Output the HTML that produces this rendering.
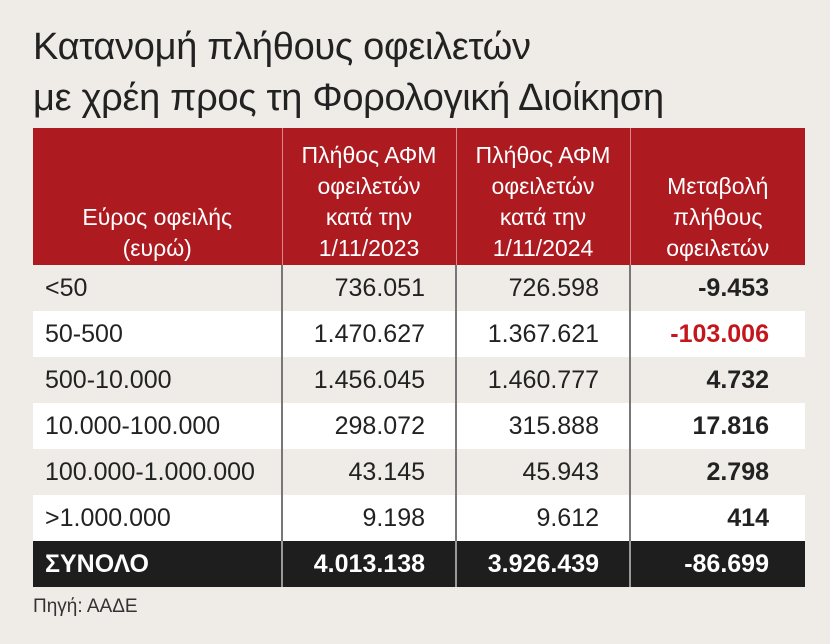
<!DOCTYPE html>
<html><head><meta charset="utf-8"><style>
body{margin:0;width:830px;height:644px;background:#efece7;font-family:"Liberation Sans","DejaVu Sans",sans-serif;color:#222;position:relative;overflow:hidden}
.t{position:absolute;left:33px;font-size:38px;color:#222;white-space:nowrap;letter-spacing:-0.3px}
table{position:absolute;left:33px;top:128px;border-collapse:collapse;width:772px;table-layout:fixed}
th{background:#ad1a20;color:#fff;font-weight:normal;font-size:23px;line-height:31px;height:136px;vertical-align:bottom;padding:0 0 1px 0;text-align:center;border-left:1px solid #d88}
th:first-child{border-left:none}
td{height:46px;padding:0;font-size:25px;text-align:right;border-left:2px solid #777;white-space:nowrap}
td:first-child{text-align:left;padding-left:12px;border-left:none}
td.n{padding-right:30px}
td.c{padding-right:36px;font-weight:bold}
tr.w td{background:#fff}
tr.tot td{background:#1e1e1e;color:#fff;font-weight:bold;border-left:2px solid #999}
tr.tot td:first-child{border-left:none}
.red{color:#c4161c}
.src{position:absolute;left:33px;top:596px;font-size:19px;color:#333}
</style></head><body>
<div class="t" style="top:26px">Κατανομή πλήθους οφειλετών</div>
<div class="t" style="top:77px">με χρέη προς τη Φορολογική Διοίκηση</div>
<table>
<colgroup><col style="width:249px"><col style="width:174px"><col style="width:174px"><col style="width:175px"></colgroup>
<tr><th>Εύρος οφειλής<br>(ευρώ)</th><th>Πλήθος ΑΦΜ<br>οφειλετών<br>κατά την<br>1/11/2023</th><th>Πλήθος ΑΦΜ<br>οφειλετών<br>κατά την<br>1/11/2024</th><th>Μεταβολή<br>πλήθους<br>οφειλετών</th></tr>
<tr><td>&lt;50</td><td class="n">736.051</td><td class="n">726.598</td><td class="c">-9.453</td></tr>
<tr class="w"><td>50-500</td><td class="n">1.470.627</td><td class="n">1.367.621</td><td class="c red">-103.006</td></tr>
<tr><td>500-10.000</td><td class="n">1.456.045</td><td class="n">1.460.777</td><td class="c">4.732</td></tr>
<tr class="w"><td>10.000-100.000</td><td class="n">298.072</td><td class="n">315.888</td><td class="c">17.816</td></tr>
<tr><td>100.000-1.000.000</td><td class="n">43.145</td><td class="n">45.943</td><td class="c">2.798</td></tr>
<tr class="w"><td>&gt;1.000.000</td><td class="n">9.198</td><td class="n">9.612</td><td class="c">414</td></tr>
<tr class="tot"><td>ΣΥΝΟΛΟ</td><td class="n">4.013.138</td><td class="n">3.926.439</td><td class="c">-86.699</td></tr>
</table>
<div class="src">Πηγή: ΑΑΔΕ</div>
</body></html>
